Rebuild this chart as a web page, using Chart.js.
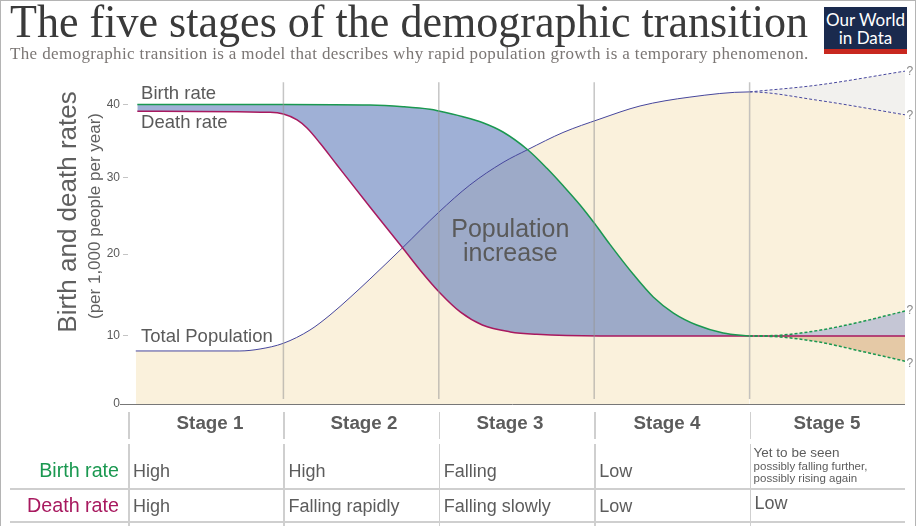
<!DOCTYPE html>
<html>
<head>
<meta charset="utf-8">
<title>The five stages of the demographic transition</title>
<script src="https://cdn.jsdelivr.net/npm/chart.js@4/dist/chart.umd.js"></script>
<style>
  html, body { margin: 0; padding: 0; background: #fff; }
  #page { position: relative; width: 918px; height: 526px; overflow: hidden; font-family: "Liberation Sans", sans-serif; color: #5c5c5c; }
  #frame { position: absolute; left: 0; top: 0; width: 916px; height: 530px; border: 1px solid #b4b4b4; box-sizing: border-box; }
  canvas { position: absolute; left: 0; top: 0; }
  #title { position: absolute; left: 10px; top: -5px; font: 46px "Liberation Serif", serif; color: #3a3a3a; white-space: nowrap; transform-origin: left top; }
  #subtitle { position: absolute; left: 10px; top: 44px; font: 17px "Liberation Serif", serif; color: #7b7674; white-space: nowrap; letter-spacing: 0.37px; }
  #logo { position: absolute; left: 824px; top: 7px; width: 83px; height: 47px; background: #1a2a4e; border-bottom: 5px solid #c8281f; box-sizing: border-box; color: #fff; font: 17px/18px Lato, sans-serif; text-align: center; padding-top: 4px; }
  .cell { position: absolute; white-space: nowrap; transform: translateY(-50%); }
  .vline { position: absolute; width: 1.5px; background: #cfcfcf; }
  .hline { position: absolute; height: 1.5px; background: #cfcfcf; left: 10px; width: 895px; }
</style>
</head>
<body>
<div id="page">
  <div id="frame"></div>
  <canvas id="myChart" width="918" height="526"></canvas>
  <div id="title">The five stages of the demographic transition</div>
  <div id="subtitle">The demographic transition is a model that describes why rapid population growth is a temporary phenomenon.</div>
  <div id="logo">Our World<br>in Data</div>
</div>
<script>
// x values are positions along the stages: 0 = start of stage 1, 5 = end of stage 5
const birthX = [0.06, 1.0, 1.557, 1.77, 1.943, 2.0, 2.156, 2.284, 2.413, 2.574, 2.696, 2.799, 2.909, 3.005, 3.1, 3.25, 3.38, 3.51, 3.66, 3.83, 4.0];
const birthRate = [40, 40, 39.93, 39.7, 39.35, 39.12, 38.34, 37.52, 36.26, 33.81, 31.32, 29.01, 26.45, 23.95, 21.3, 17.56, 14.76, 12.8, 11.34, 10.37, 10];

const deathX = [0.06, 0.914, 1.0, 1.088, 1.152, 1.235, 1.345, 1.557, 1.763, 1.879, 2.008, 2.14, 2.28, 2.46, 2.63, 3.04, 4.0, 5.0];
const deathRate = [39.1, 38.94, 38.7, 37.9, 36.8, 34.76, 31.77, 26.18, 20.92, 18.05, 15.24, 12.9, 11.34, 10.5, 10.2, 10, 10, 10];

const populationX = [0.05, 0.72, 0.85, 1.0, 1.171, 1.3, 1.429, 1.557, 1.763, 2.0, 2.2, 2.413, 2.574, 2.799, 3.037, 3.295, 3.616, 4.0, 4.43, 5.0];
const totalPopulation = [7.8, 7.8, 8.09, 8.93, 10.73, 12.56, 14.7, 16.95, 20.75, 25.5, 29.08, 32.11, 33.88, 36.19, 38.03, 39.8, 41, 41.7, 40.6, 38.6];

const populationHighX = [4.0, 4.43, 5.0];
const populationHigh = [41.7, 42.6, 44.5];

const futureX = [4.0, 4.2, 4.45, 4.71, 5.0];
const birthRising = [10, 10.1, 10.7, 11.7, 13.05];
const birthFalling = [10, 9.85, 9.1, 7.8, 6.3];

const yTicks = [0, 10, 20, 30, 40];
const stageBounds = [1, 2, 3, 4];
const tableBounds = [0, 1, 2, 3, 4];

const stageNames = ['Stage 1', 'Stage 2', 'Stage 3', 'Stage 4', 'Stage 5'];
const birthRow = ['High', 'High', 'Falling', 'Low'];
const deathRow = ['High', 'Falling rapidly', 'Falling slowly', 'Low', 'Low'];

const GREEN = '#1a9850';
const MAGENTA = '#a8195f';
const INDIGO = '#46469c';

// the original's y axis is not evenly spaced, ticks sit at these shares of the plot height
const yStops = [0, 10, 20, 30, 40, 46];
const yShares = [0, 0.1977, 0.436, 0.657, 0.8706, 1];

class StretchedScale extends Chart.LinearScale {
    getPixelForValue(value) {
        let i = 0;
        while (i < yStops.length - 2 && value > yStops[i + 1]) i++;
        const t = (value - yStops[i]) / (yStops[i + 1] - yStops[i]);
        return this.bottom - this.height * (yShares[i] + t * (yShares[i + 1] - yShares[i]));
    }
}
StretchedScale.id = 'stretched';
StretchedScale.defaults = Chart.LinearScale.defaults;
Chart.register(StretchedScale);

function points(xs, ys) {
    return xs.map(function (x, i) { return { x: x, y: ys[i] }; });
}

function dashedAfterStage4(ctx) {
    return ctx.p0.parsed.x >= 4 ? [3, 2] : undefined;
}

// text placed in data coordinates
const notes = [
    { text: 'Birth rate', x: 0.084, y: 41.55, size: 18.5, align: 'left' },
    { text: 'Death rate', x: 0.084, y: 37.6, size: 18.5, align: 'left' },
    { text: 'Total Population', x: 0.084, y: 10, size: 18.5, align: 'left' },
    { text: 'Population', x: 2.46, y: 23.3, size: 25, align: 'center' },
    { text: 'increase', x: 2.46, y: 20.1, size: 25, align: 'center' },
    { text: '?', x: 5.01, y: 44.6, size: 12, align: 'left', color: '#888' },
    { text: '?', x: 5.01, y: 38.6, size: 12, align: 'left', color: '#888' },
    { text: '?', x: 5.01, y: 13.2, size: 12, align: 'left', color: '#888' },
    { text: '?', x: 5.01, y: 6.1, size: 12, align: 'left', color: '#888' }
];

const stageLines = {
    id: 'stageLines',
    afterDatasetsDraw: function (chart) {
        const c = chart.ctx, xs = chart.scales.x, ys = chart.scales.y;
        c.save();
        c.strokeStyle = 'rgba(150,150,150,0.55)';
        c.lineWidth = 1.5;
        stageBounds.forEach(function (b) {
            const px = xs.getPixelForValue(b);
            c.beginPath();
            c.moveTo(px, ys.getPixelForValue(43));
            c.lineTo(px, ys.bottom - 5);
            c.stroke();
        });
        // baseline runs past the y axis
        c.strokeStyle = '#777';
        c.lineWidth = 1;
        c.beginPath();
        c.moveTo(xs.left - 8, ys.bottom + 0.5);
        c.lineTo(xs.right, ys.bottom + 0.5);
        c.stroke();

        c.textBaseline = 'middle';
        notes.forEach(function (n) {
            c.font = n.size + 'px "Liberation Sans"';
            c.fillStyle = n.color || '#5a5a5a';
            c.textAlign = n.align;
            c.fillText(n.text, xs.getPixelForValue(n.x), ys.getPixelForValue(n.y) + 1);
        });

        c.textAlign = 'center';
        c.fillStyle = '#5f5f5f';
        c.save();
        c.translate(69, 212);
        c.rotate(-Math.PI / 2);
        c.font = '26px "Liberation Sans"';
        c.fillText('Birth and death rates', 0, 0);
        c.restore();
        c.save();
        c.translate(95, 216);
        c.rotate(-Math.PI / 2);
        c.font = '17px "Liberation Sans"';
        c.fillText('(per 1,000 people per year)', 0, 0);
        c.restore();
        c.restore();
    }
};

const ctx = document.getElementById('myChart').getContext('2d');
const myChart = new Chart(ctx, {
    type: 'line',
    plugins: [stageLines],
    data: {
        datasets: [
            {
                label: 'Birth rate',
                data: points(birthX, birthRate),
                borderColor: GREEN,
                borderWidth: 1.5,
                backgroundColor: 'rgba(95,123,187,0.6)',
                fill: 1,
                order: 1
            },
            {
                label: 'Death rate',
                data: points(deathX, deathRate),
                borderColor: MAGENTA,
                borderWidth: 1.5,
                fill: false,
                order: 2
            },
            {
                label: 'Birth rate, rising',
                data: points(futureX, birthRising),
                borderColor: GREEN,
                borderWidth: 1.5,
                borderDash: [3, 2],
                backgroundColor: '#c5c6d5',
                fill: 1,
                order: 0
            },
            {
                label: 'Birth rate, falling',
                data: points(futureX, birthFalling),
                borderColor: GREEN,
                borderWidth: 1.5,
                borderDash: [3, 2],
                backgroundColor: '#e5c9a6',
                fill: 1,
                order: 0
            },
            {
                label: 'Total Population, high',
                data: points(populationHighX, populationHigh),
                borderColor: INDIGO,
                borderWidth: 1,
                borderDash: [3, 2],
                backgroundColor: '#f2f1ee',
                fill: 5,
                order: 3
            },
            {
                label: 'Total Population',
                data: points(populationX, totalPopulation),
                borderColor: INDIGO,
                borderWidth: 1,
                segment: { borderDash: dashedAfterStage4 },
                backgroundColor: '#faf1dc',
                fill: 'origin',
                order: 4
            }
        ]
    },
    options: {
        responsive: false,
        animation: false,
        layout: { padding: { left: 0, top: 60, right: 13, bottom: 122 } },
        elements: {
            point: { radius: 0 },
            line: { cubicInterpolationMode: 'monotone' }
        },
        plugins: {
            legend: { display: false },
            tooltip: { enabled: false },
            filler: { drawTime: 'beforeDatasetsDraw' }
        },
        scales: {
            x: { type: 'linear', min: 0, max: 5, display: false },
            y: {
                type: 'stretched',
                min: 0,
                max: 46,
                afterFit: function (scale) { scale.width = 128; },
                afterBuildTicks: function (scale) {
                    scale.ticks = yTicks.map(function (v) { return { value: v }; });
                },
                border: { display: false },
                grid: { drawOnChartArea: false, tickLength: 5, tickColor: '#c4c4c4' },
                ticks: {
                    padding: 3,
                    color: '#5a5a5a',
                    font: { family: 'Liberation Sans', size: 12 }
                }
            }
        }
    }
});

// squeeze the title to the width it has in the original
const titleEl = document.getElementById('title');
titleEl.style.transform = 'scaleX(' + (798 / titleEl.getBoundingClientRect().width) + ')';

// table under the chart, lined up with the x scale
const page = document.getElementById('page');
const xScale = myChart.scales.x;
const stageCentres = [210, 364, 510, 667, 827];

function addCell(text, left, top, style) {
    const el = document.createElement('div');
    el.className = 'cell';
    el.textContent = text;
    el.style.cssText = 'left:' + left + 'px;top:' + top + 'px;' + (style || '');
    page.appendChild(el);
}

function addLine(cls, css) {
    const el = document.createElement('div');
    el.className = cls;
    el.style.cssText = css;
    page.appendChild(el);
}

tableBounds.forEach(function (b) {
    const px = xScale.getPixelForValue(b);
    addLine('vline', 'left:' + px + 'px;top:412px;height:27px');
    addLine('vline', 'left:' + px + 'px;top:444px;height:82px');
});
addLine('hline', 'top:488px');
addLine('hline', 'top:521px');

stageNames.forEach(function (name, i) {
    addCell(name, stageCentres[i], 423, 'transform:translate(-50%,-50%);font-weight:bold;font-size:18.8px');
});
birthRow.forEach(function (text, i) {
    addCell(text, xScale.getPixelForValue(i) + 5, 471, 'font-size:18px');
});
deathRow.forEach(function (text, i) {
    addCell(text, xScale.getPixelForValue(i) + 5, i === 4 ? 503 : 506, 'font-size:18px');
});
addCell('Yet to be seen', xScale.getPixelForValue(4) + 4, 452, 'font-size:13.5px');
addCell('possibly falling further,', xScale.getPixelForValue(4) + 4, 466, 'font-size:11.5px');
addCell('possibly rising again', xScale.getPixelForValue(4) + 4, 478, 'font-size:11.5px');
addCell('Birth rate', 28, 470, 'width:91px;text-align:right;font-size:19.7px;color:' + GREEN);
addCell('Death rate', 18, 505, 'width:101px;text-align:right;font-size:19.7px;color:' + MAGENTA);
</script>
</body>
</html>
